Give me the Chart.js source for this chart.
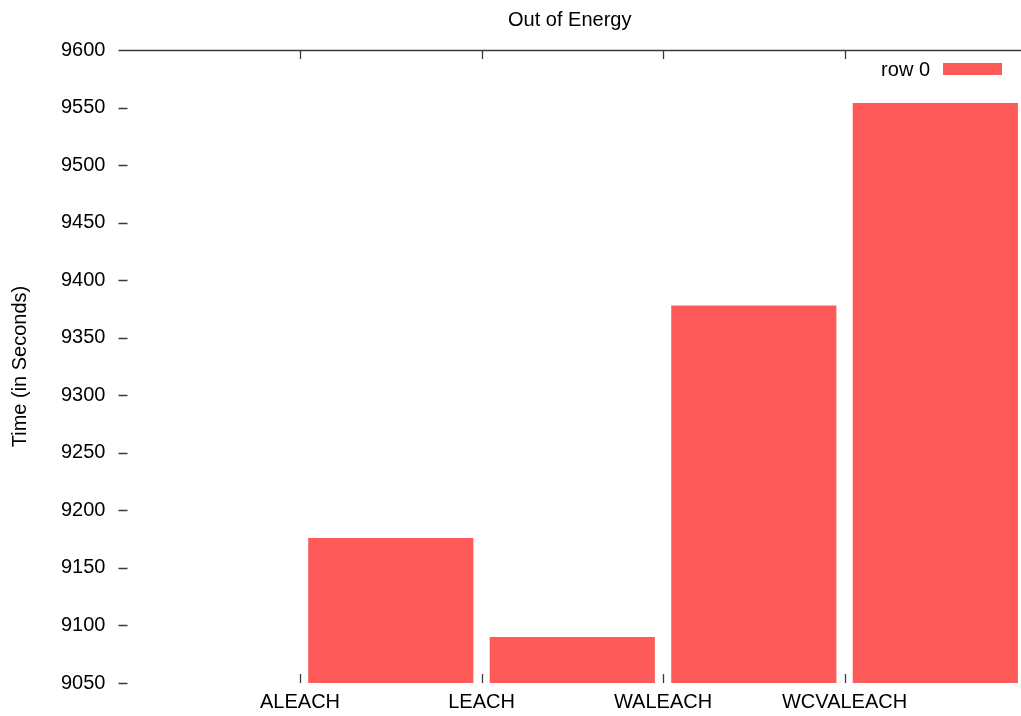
<!DOCTYPE html>
<html>
<head>
<meta charset="utf-8">
<title>Out of Energy</title>
<script src="https://cdn.jsdelivr.net/npm/chart.js@4.4.0/dist/chart.umd.min.js"></script>
<style>
  html, body { margin: 0; padding: 0; background: #fff; }
  #c { display: block; }
</style>
</head>
<body>
<canvas id="c" width="1021" height="716"></canvas>
<script>
// Categories along the x axis (one tick per protocol)
const categories = ['ALEACH', 'LEACH', 'WALEACH', 'WCVALEACH'];
// Single data series
const seriesName = 'row 0';
const timeValues = [9176, 9090, 9378, 9554];
// Value axis range and tick step
const yRange = [9050, 9600];
const yStep = 50;

const FONT = { family: '"Liberation Sans", Arial, sans-serif', size: 20 };
const INK = '#000';
const FRAME = '#3a3a3a';
const BAR = '#ff5a5a';

// Each bar sits in the slot to the right of its category tick
const barPoints = timeValues.map((v, i) => ({ x: i + 1.5, y: v }));

// Gnuplot-style frame: top border plus short inward tick marks
const framePlugin = {
  id: 'frame',
  afterDatasetsDraw(chart) {
    const { ctx, chartArea: a, scales: { x, y } } = chart;
    const len = 9;
    ctx.save();
    ctx.strokeStyle = FRAME;
    ctx.lineWidth = 1.3;
    ctx.beginPath();
    ctx.moveTo(a.left, a.top + 0.5);
    ctx.lineTo(a.right, a.top + 0.5);
    y.ticks.forEach(t => {
      const py = Math.round(y.getPixelForValue(t.value)) + 0.5;
      ctx.moveTo(a.left, py);
      ctx.lineTo(a.left + len, py);
    });
    x.ticks.forEach(t => {
      const px = Math.round(x.getPixelForValue(t.value)) + 0.5;
      ctx.moveTo(px, a.top);
      ctx.lineTo(px, a.top + len);
      ctx.moveTo(px, a.bottom);
      ctx.lineTo(px, a.bottom - len);
    });
    ctx.stroke();
    ctx.restore();
  }
};

// Key drawn inside the plot, label to the left of the swatch
const keyPlugin = {
  id: 'key',
  afterDraw(chart) {
    const { ctx, chartArea: a } = chart;
    const ds = chart.data.datasets[0];
    const boxW = 59, boxH = 12;
    const bx = a.right - 19 - boxW;
    const by = a.top + 13;
    ctx.save();
    ctx.fillStyle = ds.backgroundColor;
    ctx.fillRect(bx, by, boxW, boxH);
    ctx.font = `${FONT.size}px ${FONT.family}`;
    ctx.fillStyle = INK;
    ctx.textAlign = 'right';
    ctx.textBaseline = 'middle';
    ctx.fillText(ds.label, bx - 13, by + boxH / 2 + 1);
    ctx.restore();
  }
};

new Chart(document.getElementById('c'), {
  type: 'bar',
  data: {
    datasets: [{
      label: seriesName,
      data: barPoints,
      backgroundColor: BAR,
      borderWidth: 0,
      categoryPercentage: 1,
      barPercentage: 0.91
    }]
  },
  options: {
    responsive: false,
    animation: false,
    devicePixelRatio: 1,
    layout: { padding: { left: 0, right: 0, top: 0, bottom: 0 } },
    plugins: {
      legend: { display: false },
      tooltip: { enabled: false },
      title: {
        display: true,
        text: 'Out of Energy',
        fullSize: false,
        color: INK,
        font: { ...FONT, weight: 'normal' },
        padding: { top: 8, bottom: 18 }
      }
    },
    scales: {
      x: {
        type: 'linear',
        position: 'bottom',
        min: 0,
        max: 4.972,
        offset: false,
        grid: { display: false, drawTicks: false },
        border: { display: false },
        afterBuildTicks: s => { s.ticks = categories.map((_, i) => ({ value: i + 1 })); },
        afterFit: s => { s.height = 33; },
        ticks: {
          autoSkip: false,
          maxRotation: 0,
          padding: 7,
          color: INK,
          font: FONT,
          callback: (v, i) => categories[i]
        }
      },
      y: {
        type: 'linear',
        min: yRange[0],
        max: yRange[1],
        grid: { display: false, drawTicks: false },
        border: { display: false },
        ticks: {
          stepSize: yStep,
          padding: 13,
          color: INK,
          font: FONT,
          callback: v => String(v)
        },
        title: {
          display: true,
          text: 'Time (in Seconds)',
          color: INK,
          font: FONT,
          padding: { top: 8, bottom: 16 }
        }
      }
    }
  },
  plugins: [framePlugin, keyPlugin]
});
</script>
</body>
</html>
